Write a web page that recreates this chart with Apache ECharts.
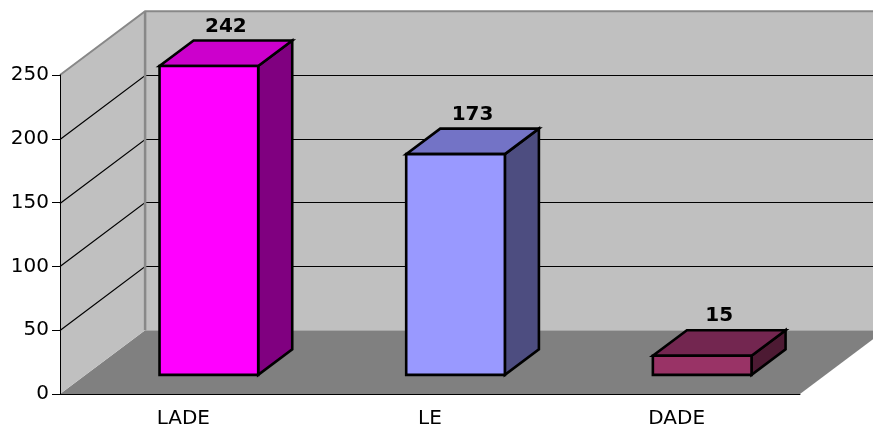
<!DOCTYPE html>
<html>
<head>
<meta charset="utf-8">
<script src="https://cdn.jsdelivr.net/npm/echarts@6/dist/echarts.min.js"></script>
<style>
html,body{margin:0;padding:0;background:#fff;}
#chart{width:873px;height:429px;}
</style>
</head>
<body>
<div id="chart"></div>
<script>
// ---- data ----
const categories = ['LADE', 'LE', 'DADE'];
const values = [242, 173, 15];
const yTickValues = [0, 50, 100, 150, 200, 250];

// ---- style ----
const frontColors = ['#FF00FF', '#9999FF', '#993366'];
const topColors = ['#CC00CC', '#7373C6', '#732650'];
const sideColors = ['#800080', '#4D4D80', '#4D1A33'];
const FONT = '"DejaVu Sans", Verdana, sans-serif';
const DEPTH_FRAC_X = 0.345;   // depth offset as fraction of category band
const BAR_W = 0.4;            // bar width as fraction of band
const BAR_FRONT = 0.3, BAR_BACK = 0.7; // depth positions of bar faces

const yMin = yTickValues[0], yMax = yTickValues[yTickValues.length - 1];
const yStep = yTickValues[1] - yTickValues[0];

function depth(api) {
  const band = api.size([1, 0])[0];
  const dy = -api.size([0, yStep])[1];
  return [band * DEPTH_FRAC_X, dy];
}

function renderWalls(params, api) {
  const cs = params.coordSys;
  const x0 = cs.x, x1 = cs.x + cs.width;
  const [dx, dy] = depth(api);
  const yBase = api.coord([0, yMin])[1];
  const yTop = api.coord([0, yMax])[1];
  const children = [];
  children.push({ type: 'polygon', shape: { points: [[x0, yBase], [x1, yBase], [x1 + dx, yBase + dy], [x0 + dx, yBase + dy]] }, style: { fill: '#808080' } });
  children.push({ type: 'polygon', shape: { points: [[x0, yBase], [x0, yTop], [x0 + dx, yTop + dy], [x0 + dx, yBase + dy]] }, style: { fill: '#C0C0C0' } });
  children.push({ type: 'polygon', shape: { points: [[x0 + dx, yTop + dy], [x1 + dx, yTop + dy], [x1 + dx, yBase + dy], [x0 + dx, yBase + dy]] }, style: { fill: '#C0C0C0' } });
  yTickValues.slice(1, -1).forEach(v => {
    const yv = Math.round(api.coord([0, v])[1]) + 0.5;
    children.push({ type: 'polyline', shape: { points: [[x0, yv], [x0 + dx, yv + Math.round(dy)], [x1 + dx, yv + Math.round(dy)]] }, style: { stroke: '#000', lineWidth: 1.2, fill: null } });
  });
  children.push({ type: 'polyline', shape: { points: [[x0, yTop], [x0 + dx, yTop + dy], [x1 + dx, yTop + dy]] }, style: { stroke: '#888', lineWidth: 2, fill: null } });
  children.push({ type: 'line', shape: { x1: x0 + dx, y1: yTop + dy, x2: x0 + dx, y2: yBase + dy }, style: { stroke: '#888', lineWidth: 2.5 } });
  return { type: 'group', children };
}

function renderBar(params, api) {
  const i = api.value(0), v = api.value(1);
  const band = api.size([1, 0])[0];
  const [dx, dy] = depth(api);
  const c = api.coord([i, 0]);
  const yb = c[1], yt = api.coord([i, v])[1];
  const w = band * BAR_W;
  const xl = c[0] - w / 2, xr = c[0] + w / 2;
  const fx = dx * BAR_FRONT, fy = dy * BAR_FRONT;
  const bx = dx * BAR_BACK, by = dy * BAR_BACK;
  const stroke = { stroke: '#000', lineWidth: 2.6, lineJoin: 'miter' };
  return {
    type: 'group',
    children: [
      { type: 'polygon', shape: { points: [[xr + fx, yt + fy], [xr + bx, yt + by], [xr + bx, yb + by], [xr + fx, yb + fy]] }, style: Object.assign({ fill: sideColors[i] }, stroke) },
      { type: 'polygon', shape: { points: [[xl + fx, yt + fy], [xr + fx, yt + fy], [xr + bx, yt + by], [xl + bx, yt + by]] }, style: Object.assign({ fill: topColors[i] }, stroke) },
      { type: 'polygon', shape: { points: [[xl + fx, yt + fy], [xr + fx, yt + fy], [xr + fx, yb + fy], [xl + fx, yb + fy]] }, style: Object.assign({ fill: frontColors[i] }, stroke) },
      { type: 'text', style: { text: String(v), x: c[0] + dx * 0.5, y: yt + by - 14, align: 'center', verticalAlign: 'middle', textAlign: 'center', textVerticalAlign: 'middle', font: 'bold 20px ' + FONT, fill: '#000' } }
    ]
  };
}

const chart = echarts.init(document.getElementById('chart'));
chart.setOption({
  animation: false,
  backgroundColor: '#fff',
  grid: { left: 60, right: 73, top: 75, bottom: 34, containLabel: false },
  xAxis: {
    type: 'category', data: categories, z: 10,
    axisLine: { lineStyle: { color: '#000', width: 1 } },
    axisTick: { length: 6, lineStyle: { color: '#000' } },
    axisLabel: { fontSize: 20, fontFamily: FONT, color: '#000', margin: 15 }
  },
  yAxis: {
    type: 'value', min: yMin, max: yMax, interval: yStep, z: 10,
    axisLine: { show: true, lineStyle: { color: '#000', width: 1 } },
    axisTick: { show: true, length: 8, lineStyle: { color: '#000' } },
    axisLabel: { fontSize: 20, fontFamily: FONT, color: '#000', margin: 11 },
    splitLine: { show: false }
  },
  series: [
    { type: 'custom', z: 1, silent: true, renderItem: renderWalls, data: [[0, 0]], clip: false },
    { type: 'custom', z: 2, renderItem: renderBar, data: values.map((v, i) => [i, v]), clip: false }
  ]
});
</script>
</body>
</html>
